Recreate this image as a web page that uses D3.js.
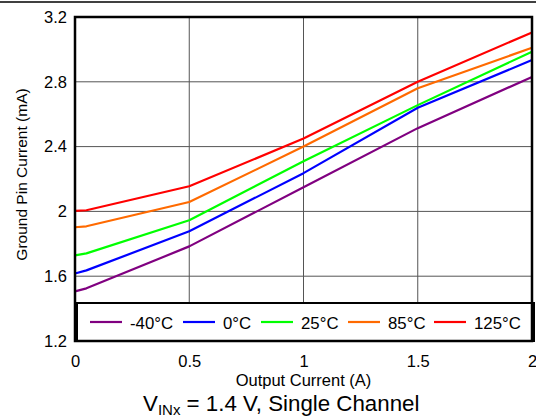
<!DOCTYPE html>
<html><head><meta charset="utf-8">
<script src="https://cdn.jsdelivr.net/npm/d3@7"></script>
<style>body{margin:0;background:#fff}svg{display:block;font-family:Arial,"Liberation Sans",sans-serif}</style>
</head><body>
<svg id="c" width="536" height="419"></svg>
<script>
const xValues = [0, 0.05, 0.5, 1, 1.5, 2];
const seriesNames = ["-40°C", "0°C", "25°C", "85°C", "125°C"];
const seriesColors = ["#800080", "#0000ff", "#00ff00", "#ff6a00", "#ff0000"];
const sMinus40 = [1.506, 1.525, 1.784, 2.149, 2.514, 2.830];
const s0 = [1.617, 1.636, 1.877, 2.236, 2.640, 2.934];
const s25 = [1.729, 1.741, 1.945, 2.310, 2.656, 2.986];
const s85 = [1.902, 1.908, 2.058, 2.400, 2.760, 3.010];
const s125 = [2.003, 2.007, 2.155, 2.450, 2.800, 3.105];
const seriesValues = [sMinus40, s0, s25, s85, s125];
const xTicks = [0, 0.5, 1, 1.5, 2];
const xTickLabels = ["0", "0.5", "1", "1.5", "2"];
const yTicks = [1.2, 1.6, 2, 2.4, 2.8, 3.2];
const yTickLabels = ["1.2", "1.6", "2", "2.4", "2.8", "3.2"];

const FF = "Arial,'Liberation Sans',sans-serif";
const svg = d3.select("#c");
const L = 75, R = 532, T = 17, B = 341;
const x = d3.scaleLinear().domain([0, 2]).range([L, R]);
const y = d3.scaleLinear().domain([1.2, 3.2]).range([B, T]);

// top rule
svg.append("line").attr("x1", 0).attr("x2", 536).attr("y1", 2).attr("y2", 2).attr("stroke", "#000").attr("stroke-width", 1.5);

// grid
svg.append("g").selectAll("line").data(yTicks.slice(1, -1)).join("line")
  .attr("x1", L).attr("x2", R).attr("y1", d => y(d)).attr("y2", d => y(d))
  .attr("stroke", "#555").attr("stroke-width", 1);
svg.append("g").selectAll("line").data(xTicks.slice(1, -1)).join("line")
  .attr("y1", T).attr("y2", B).attr("x1", d => x(d)).attr("x2", d => x(d))
  .attr("stroke", "#555").attr("stroke-width", 1);

// series
const line = d3.line().x((d, i) => x(xValues[i])).y(d => y(d));
svg.append("g").selectAll("path").data(seriesValues).join("path")
  .attr("d", d => line(d)).attr("fill", "none")
  .attr("stroke", (d, i) => seriesColors[i]).attr("stroke-width", 2.2)
  .attr("stroke-linejoin", "round");

// legend
const lg = svg.append("g");
lg.append("rect").attr("x", 77).attr("y", 303).attr("width", 457).attr("height", 38)
  .attr("fill", "#fff").attr("stroke", "#000").attr("stroke-width", 2);
const legX = [90, 183, 261, 348, 434];
seriesNames.forEach((n, i) => {
  lg.append("line").attr("x1", legX[i]).attr("x2", legX[i] + 32).attr("y1", 322).attr("y2", 322)
    .attr("stroke", seriesColors[i]).attr("stroke-width", 2.2);
  lg.append("text").attr("x", legX[i] + 40).attr("y", 328.5)
    .attr("font-size", 16.8).attr("fill", "#000").text(n);
});

// border
svg.append("rect").attr("x", L).attr("y", T).attr("width", R - L).attr("height", B - T)
  .attr("fill", "none").attr("stroke", "#000").attr("stroke-width", 2.5);

// axes
const xAxis = d3.axisBottom(x).tickValues(xTicks).tickFormat((d, i) => xTickLabels[i]).tickSize(0).tickPadding(14);
const gx = svg.append("g").attr("transform", `translate(0,${B})`).call(xAxis);
gx.select(".domain").remove();
gx.selectAll("text").attr("font-size", 16.5).attr("fill", "#000").attr("font-family", FF);
const yAxis = d3.axisLeft(y).tickValues(yTicks).tickFormat((d, i) => yTickLabels[i]).tickSize(0).tickPadding(8);
const gy = svg.append("g").attr("transform", `translate(${L},0)`).call(yAxis);
gy.select(".domain").remove();
gy.selectAll("text").attr("font-size", 16.5).attr("fill", "#000").attr("font-family", FF);

svg.append("text").attr("x", (L + R) / 2).attr("y", 386).attr("text-anchor", "middle")
  .attr("font-size", 16.5).text("Output Current (A)");
svg.append("text").attr("transform", `translate(27,174.5) rotate(-90)`)
  .attr("text-anchor", "middle").attr("font-size", 15.5).text("Ground Pin Current (mA)");
const sub = svg.append("text").attr("x", 143).attr("y", 411).attr("font-size", 22.3);
sub.append("tspan").text("V");
sub.append("tspan").attr("font-size", 15).attr("dy", 3.5).text("INx");
sub.append("tspan").attr("dy", -3.5).text(" = 1.4 V, Single Channel");
</script>
</body></html>
